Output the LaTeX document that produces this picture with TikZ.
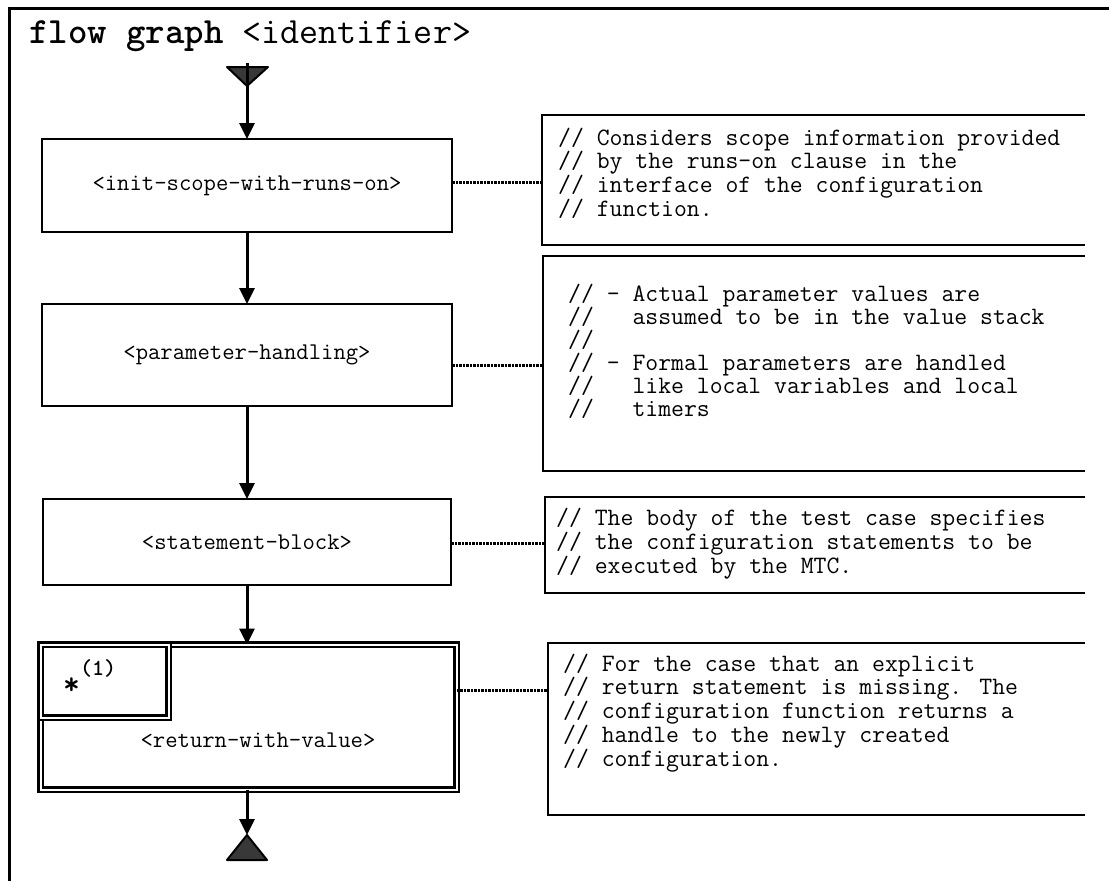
\documentclass[tikz,border=0pt]{standalone}
\usepackage{fontspec}
\usetikzlibrary{arrows.meta}

\begin{document}
\begin{tikzpicture}[x=1pt,y=-1pt,>={Triangle[length=16pt,width=15pt]},
	box/.style={draw,line width=2.5pt,inner sep=0pt,outer sep=0pt,font=\fontsize{24}{27}\selectfont\ttfamily},
	boxtext/.style={inner sep=0pt,font=\fontsize{24}{27}\selectfont\ttfamily},
	note/.style={align=left,anchor=west,inner sep=0pt,font=\fontsize{25}{23}\selectfont\ttfamily},
	flow/.style={->,line width=3pt},
	link/.style={line width=3pt,dash pattern=on 2.5pt off 1pt},
	bracket/.style={line width=2.5pt},
	term/.style={draw,line width=2pt,fill=black!78,line join=round}]
	
	\useasboundingbox (0,0) rectangle (1109,881);
	\draw[line width=3pt] (1109,8) -- (9,8) -- (9,881);
	\node[anchor=base west,inner sep=0pt,font=\fontsize{37}{37}\selectfont\ttfamily] (title) at (29,43) {\textbf{flow graph} <identifier>};
	
	\node[box,minimum width=410pt,minimum height=93pt] (init) at (247,185.5) {<init-scope-with-runs-on>};
	\node[box,minimum width=410pt,minimum height=102pt] (param) at (247,355) {<parameter-handling>};
	\node[box,minimum width=408pt,minimum height=86pt] (stmt) at (247,542) {<statement-block>};
	\node[box,double,double distance=2pt,minimum width=416pt,minimum height=145pt] (ret) at (248.5,717) {};
	\node[box,double,double distance=2pt,minimum width=128pt,minimum height=73pt,anchor=north west] (mark) at (ret.north west) {};
	\node[boxtext] (rettxt) at (258,740) {<return-with-value>};
	\node[anchor=base west,inner sep=0pt,font=\fontsize{32}{32}\selectfont\ttfamily\bfseries] (star) at (63,694) {*\raisebox{19pt}{\fontsize{23}{23}\selectfont(1)}};
	
	\coordinate (entry) at (247,63);
	\coordinate (exit) at (247,835);
	\draw[term] (227,67) -- (268,67) -- (247,86) -- cycle;
	\draw[flow] (entry) -- (init);
	\draw[flow] (init) -- (param);
	\draw[flow] (param) -- (stmt);
	\draw[flow] (stmt) -- (stmt |- ret.north);
	\draw[flow] (stmt |- ret.south) -- (exit);
	\draw[term] (exit) -- (227,860) -- (267,860) -- cycle;
	
	\draw[bracket] (1085,115) -- (542,115) -- (542,245) -- (1085,245);
	\draw[bracket] (1085,256) -- (543,256) -- (543,471) -- (1085,471);
	\draw[bracket] (1085,497) -- (545,497) -- (545,593) -- (1085,593);
	\draw[bracket] (1085,643) -- (548,643) -- (548,815) -- (1085,815);
	\coordinate (n1) at (542,182);
	\coordinate (n2) at (543,365);
	\coordinate (n3) at (545,543);
	\coordinate (n4) at (548,690);
	\draw[link] (init.east |- n1) -- (n1);
	\draw[link] (param.east |- n2) -- (n2);
	\draw[link] (stmt.east |- n3) -- (n3);
	\draw[link] (ret.east |- n4) -- (n4);
	
	\node[note] (t1) at (558,173) {// Considers scope information provided\\// by the runs-on clause in the\\// interface of the configuration\\// function.};
	\node[note] (t2) at (568,351) {// - Actual parameter values are\\//\ \ \ assumed to be in the value stack\\//\\// - Formal parameters are handled\\//\ \ \ like local variables and local\\//\ \ \ timers};
	\node[note] (t3) at (556,544) {// The body of the test case specifies\\// the configuration statements to be\\// executed by the MTC.};
	\node[note] (t4) at (563,713) {// For the case that an explicit\\// return statement is missing. The\\// configuration function returns a\\// handle to the newly created\\// configuration.};
\end{tikzpicture}
\end{document}
